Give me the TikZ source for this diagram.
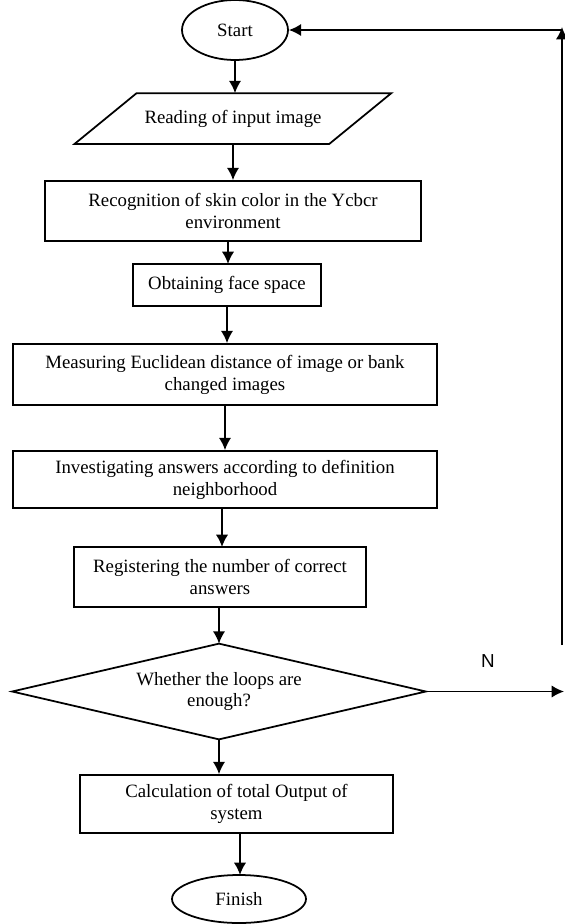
\documentclass[tikz,border=0pt]{standalone}
\usepackage{fontspec}
\setmainfont{Liberation Serif}
\newfontfamily\labelfont{Liberation Sans}
\usepackage{tikz}
\usetikzlibrary{shapes.geometric,arrows.meta,calc}

\begin{document}
\begin{tikzpicture}[x=0.02cm, y=-0.02cm, line width=1pt,
	>={Latex[length=7pt,width=7pt]},
	font=\fontsize{10.7}{12.5}\selectfont,
	stepbox/.style={draw, rectangle, align=center, inner sep=0pt},
	endbox/.style={draw, ellipse, inner sep=0pt},
	flow/.style={->}]
	\useasboundingbox (0,0) rectangle (565,924);

	%Start
	\node[endbox, minimum width=2.12cm, minimum height=1.2cm] (start) at (235,30) {Start};
	%Input
	\node[rectangle, inner sep=0pt, minimum width=3.82cm, minimum height=0.98cm] (read) at (233,118.5) {Reading of input image};
	\draw (read.north west) -- ($(read.north east)+(62,0)$) -- (read.south east) -- ($(read.south west)+(-62,0)$) -- cycle;

	%Steps
	\node[stepbox, minimum width=7.52cm, minimum height=1.2cm] (skin) at (233,211) {Recognition of skin color in the Ycbcr\\ environment};
	\node[stepbox, minimum width=3.76cm, minimum height=0.84cm] (face) at (227,285) {Obtaining face space};
	\node[stepbox, minimum width=8.48cm, minimum height=1.22cm] (dist) at (225,374.5) {Measuring Euclidean distance of image or bank\\ changed images};
	\node[stepbox, minimum width=8.48cm, minimum height=1.14cm] (check) at (225,479.5) {Investigating answers according to definition\\ neighborhood};
	\node[stepbox, minimum width=5.84cm, minimum height=1.2cm] (count) at (220,577) {Registering the number of correct\\ answers};

	%Decision
	\node[rectangle, align=center, inner sep=0pt, minimum width=8.24cm, minimum height=1.88cm] (loops) at (219,691.5) {Whether the loops are\\ enough?};
	\draw (loops.north) -- (loops.east) -- (loops.south) -- (loops.west) -- cycle;

	%Output and end
	\node[stepbox, minimum width=6.26cm, minimum height=1.16cm] (total) at (236.5,804) {Calculation of total Output of\\ system};
	\node[endbox, minimum width=2.68cm, minimum height=0.96cm] (finish) at (239,899) {Finish};

	%Arrows down
	\draw[flow] (start.south) -- (start.south |- read.north);
	\draw[flow] (read.south) -- (read.south |- skin.north);
	\draw[flow] (228,241) -- (228,264);
	\draw[flow] (face.south) -- (face.south |- dist.north);
	\draw[flow] (dist.south) -- (dist.south |- check.north);
	\draw[flow] (222,508) -- (222,547);
	\draw[flow] (count.south -| loops.north) -- (loops.north);
	\draw[flow] (loops.south) -- (loops.south |- total.north);
	\draw[flow] (240,833) -- (240,875);

	%Loop back
	\coordinate (nend) at (564,691.5);
	\coordinate (loopbot) at (562,645);
	\coordinate (looptop) at (562,27);
	\draw[flow] (loops.east) -- node[above=10pt, xshift=-4pt, font=\labelfont\fontsize{10.7}{12}\selectfont] {N} (nend);
	\draw[flow] (loopbot) -- (looptop);
	\draw[flow] (looptop |- start.east) -- (start.east);

	\end{tikzpicture}
\end{document}
